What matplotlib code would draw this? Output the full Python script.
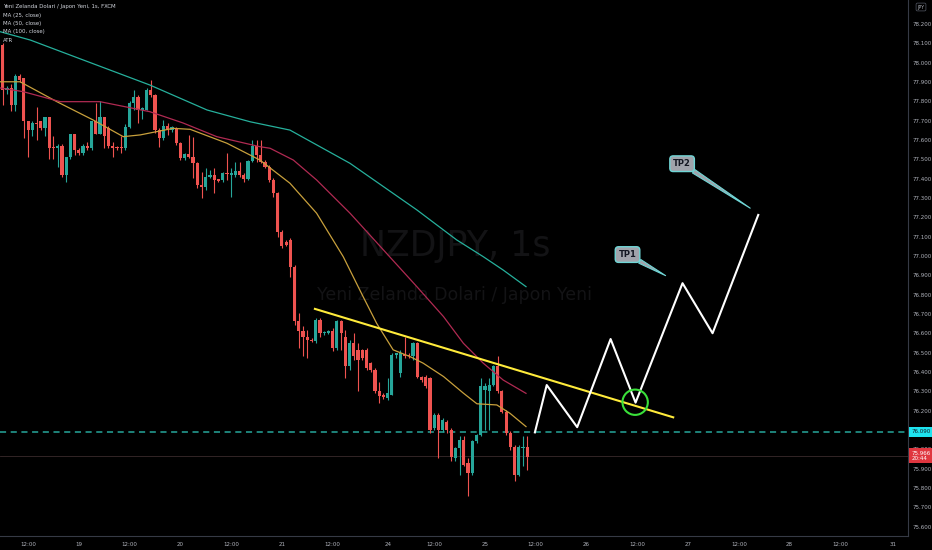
import numpy as np
import matplotlib.pyplot as plt
from matplotlib import transforms
from matplotlib.patches import Ellipse

# hourly candles (bar index 0..124)
opens = [78.09, 77.86, 77.87, 77.78, 77.93, 77.92, 77.70, 77.65, 77.69, 77.70,
         77.66, 77.72, 77.56, 77.56, 77.57, 77.42, 77.51, 77.63, 77.55, 77.53,
         77.57, 77.56, 77.70, 77.63, 77.72, 77.66, 77.57, 77.56, 77.565, 77.56,
         77.665, 77.79, 77.82, 77.755, 77.755, 77.858, 77.833, 77.652, 77.608, 77.672,
         77.652, 77.66, 77.583, 77.505, 77.527, 77.514, 77.479, 77.367, 77.358, 77.41,
         77.419, 77.40, 77.393, 77.431, 77.42, 77.42, 77.439, 77.419, 77.396, 77.493,
         77.569, 77.522, 77.488, 77.462, 77.393, 77.324, 77.126, 77.074, 77.083, 76.945,
         76.661, 76.609, 76.583, 76.566, 76.562, 76.669, 76.60, 76.60, 76.609, 76.523,
         76.661, 76.583, 76.428, 76.549, 76.514, 76.514, 76.514, 76.445, 76.411, 76.299,
         76.281, 76.264, 76.281, 76.488, 76.393, 76.49, 76.488, 76.48, 76.549, 76.376,
         76.376, 76.368, 76.109, 76.178, 76.10, 76.143, 76.10, 75.954, 76.006, 76.049,
         75.928, 75.876, 76.04, 76.075, 76.307, 76.299, 76.333, 76.428, 76.299, 76.195,
         76.083, 76.014, 75.868, 76.006, 76.014]
highs = [78.10, 77.88, 77.89, 77.94, 77.94, 77.92, 77.70, 77.70, 77.77, 77.70,
         77.72, 77.72, 77.62, 77.58, 77.58, 77.51, 77.63, 77.63, 77.56, 77.58,
         77.59, 77.70, 77.79, 77.80, 77.72, 77.67, 77.59, 77.57, 77.62, 77.68,
         77.80, 77.86, 77.83, 77.77, 77.87, 77.91, 77.84, 77.66, 77.703, 77.686,
         77.67, 77.665, 77.591, 77.53, 77.626, 77.617, 77.488, 77.436, 77.453, 77.445,
         77.453, 77.40, 77.436, 77.531, 77.453, 77.488, 77.488, 77.427, 77.496, 77.60,
         77.60, 77.60, 77.496, 77.47, 77.402, 77.333, 77.135, 77.083, 77.092, 76.954,
         76.707, 76.635, 76.617, 76.574, 76.678, 76.678, 76.609, 76.617, 76.626, 76.669,
         76.669, 76.617, 76.566, 76.60, 76.549, 76.52, 76.523, 76.45, 76.419, 76.35,
         76.29, 76.368, 76.497, 76.50, 76.514, 76.583, 76.50, 76.557, 76.557, 76.38,
         76.385, 76.376, 76.187, 76.187, 76.16, 76.152, 76.109, 76.01, 76.066, 76.066,
         75.954, 76.049, 76.08, 76.368, 76.342, 76.368, 76.437, 76.48, 76.307, 76.204,
         76.092, 76.023, 76.023, 76.066, 76.066]
lows = [77.78, 77.84, 77.75, 77.75, 77.90, 77.61, 77.51, 77.62, 77.60, 77.65,
        77.62, 77.50, 77.50, 77.46, 77.41, 77.38, 77.50, 77.52, 77.52, 77.52,
        77.55, 77.55, 77.63, 77.63, 77.56, 77.56, 77.51, 77.55, 77.53, 77.55,
        77.66, 77.755, 77.69, 77.71, 77.755, 77.824, 77.634, 77.565, 77.60, 77.626,
        77.64, 77.574, 77.496, 77.496, 77.505, 77.402, 77.35, 77.298, 77.341, 77.402,
        77.324, 77.38, 77.384, 77.393, 77.307, 77.41, 77.41, 77.384, 77.393, 77.488,
        77.488, 77.479, 77.453, 77.384, 77.307, 77.10, 77.04, 77.05, 76.893, 76.643,
        76.523, 76.48, 76.471, 76.557, 76.549, 76.583, 76.59, 76.595, 76.506, 76.514,
        76.514, 76.368, 76.411, 76.462, 76.299, 76.46, 76.411, 76.40, 76.29, 76.238,
        76.26, 76.256, 76.281, 76.47, 76.376, 76.47, 76.47, 76.462, 76.368, 76.35,
        76.316, 76.083, 76.10, 75.954, 76.09, 76.083, 75.937, 75.94, 75.868, 75.911,
        75.756, 75.868, 76.03, 76.066, 76.10, 76.10, 76.325, 76.29, 76.187, 76.075,
        75.997, 75.833, 75.859, 75.911, 75.894]
closes = [77.86, 77.87, 77.78, 77.93, 77.91, 77.70, 77.65, 77.69, 77.68, 77.66,
          77.72, 77.56, 77.557, 77.57, 77.42, 77.51, 77.63, 77.55, 77.53, 77.57,
          77.56, 77.70, 77.63, 77.72, 77.62, 77.57, 77.56, 77.557, 77.557, 77.665,
          77.79, 77.82, 77.755, 77.764, 77.858, 77.833, 77.652, 77.608, 77.672, 77.652,
          77.665, 77.583, 77.505, 77.527, 77.514, 77.479, 77.367, 77.358, 77.41, 77.419,
          77.393, 77.39, 77.431, 77.424, 77.431, 77.439, 77.419, 77.396, 77.493, 77.569,
          77.522, 77.488, 77.462, 77.393, 77.324, 77.126, 77.049, 77.057, 76.945, 76.661,
          76.609, 76.583, 76.566, 76.562, 76.669, 76.60, 76.605, 76.609, 76.523, 76.661,
          76.60, 76.428, 76.549, 76.48, 76.462, 76.471, 76.419, 76.411, 76.299, 76.273,
          76.268, 76.29, 76.488, 76.497, 76.497, 76.48, 76.48, 76.549, 76.376, 76.359,
          76.325, 76.10, 76.178, 76.10, 76.152, 76.10, 75.962, 76.006, 76.049, 75.919,
          75.876, 76.04, 76.075, 76.325, 76.325, 76.333, 76.428, 76.299, 76.195, 76.083,
          76.014, 75.868, 76.014, 76.014, 75.962]

# moving averages (bar index, price)
ma25_x = [-0.6, 4.1, 12.8, 21.4, 28.5, 32.5, 40.3, 44.3, 53.0, 60.8, 67.9, 74.2,
          80.5, 85.2, 88.4, 92.3, 96.3, 99.4, 104.2, 108.9, 112.1, 116.8, 119.9, 123.7]
ma25_y = [77.901, 77.901, 77.798, 77.703, 77.617, 77.626, 77.660, 77.655, 77.583, 77.496,
          77.376, 77.221, 76.996, 76.789, 76.651, 76.514, 76.479, 76.445, 76.376, 76.290,
          76.235, 76.229, 76.186, 76.117]
ma50_x = [-0.6, 4.8, 13.6, 23.0, 34.8, 42.6, 50.6, 60.8, 63.2, 68.7, 74.2, 82.1,
          90.0, 97.9, 104.2, 108.9, 113.6, 118.3, 123.7]
ma50_y = [77.869, 77.850, 77.798, 77.798, 77.746, 77.688, 77.617, 77.565, 77.557, 77.496,
          77.393, 77.221, 77.031, 76.841, 76.686, 76.548, 76.445, 76.358, 76.289]
ma100_x = [-0.6, 6.5, 19.0, 34.8, 48.3, 58.5, 67.9, 82.1, 97.9, 107.3, 113.6, 118.3, 123.7]
ma100_y = [78.160, 78.117, 78.014, 77.884, 77.755, 77.694, 77.651, 77.479, 77.238, 77.083,
           76.996, 76.927, 76.841]

# drawings
trend_x = [73.8, 158.5]
trend_y = [76.726, 76.165]
path_x = [125.8, 128.6, 135.8, 143.7, 149.6, 160.7, 167.8, 178.6]
path_y = [76.087, 76.332, 76.114, 76.570, 76.241, 76.859, 76.600, 77.212]

tick_pos = [6, 18, 30, 42, 54, 66, 78, 91, 102, 114, 126, 138, 150, 162, 174, 186, 198, 210.5]
tick_lab = ['12:00', '19', '12:00', '20', '12:00', '21', '12:00', '24', '12:00',
            '25', '12:00', '26', '12:00', '27', '12:00', '28', '12:00', '31']

GREEN = '#26a69a'
RED = '#ef5350'
TXT = '#b2b5be'
GRID = '#363a45'

fig = plt.figure(figsize=(9.32, 5.5), dpi=100, facecolor='black')
ax = fig.add_axes([0, 14 / 550, 908 / 932, 536 / 550])
ax.set_facecolor('black')

# watermark
ax.text(106.9, 77.049, 'NZDJPY, 1s', color='#131315', fontsize=25,
        ha='center', va='center', zorder=0)
ax.text(106.9, 76.80, 'Yeni Zelanda Dolari / Japon Yeni', color='#131315', fontsize=12.5,
        ha='center', va='center', zorder=0)

o = np.array(opens)
h = np.array(highs)
l = np.array(lows)
c = np.array(closes)
x = np.arange(len(c))
cols = np.where(c >= o, GREEN, RED)
ax.vlines(x, l, h, colors=cols, lw=0.8, zorder=2)
ax.bar(x, np.maximum(np.abs(c - o), 0.004), bottom=np.minimum(o, c), width=0.75,
       color=cols, zorder=3)

ax.plot(ma25_x, ma25_y, color='#c8a03c', lw=0.9, zorder=4)
ax.plot(ma50_x, ma50_y, color='#b02a52', lw=0.9, zorder=4)
ax.plot(ma100_x, ma100_y, color='#26b09c', lw=0.9, zorder=4)

ax.axhline(76.09, color='#26a69a', lw=1.1, ls=(0, (4, 3)), zorder=1)
ax.axhline(75.966, color='#3a2a2c', lw=0.6, zorder=1)

ax.plot(trend_x, trend_y, color='#ffeb3b', lw=1.5, zorder=5)
ax.plot(path_x, path_y, color='white', lw=1.5, zorder=5)
ax.add_patch(Ellipse((149.5, 76.243), 6.0, 0.131, fill=False, ec='#3ae03a', lw=1.5, zorder=6))

for lab, tip, box in [('TP1', (156.7, 76.898), (147.7, 77.007)),
                      ('TP2', (176.7, 77.247), (160.6, 77.477))]:
    ax.annotate(lab, xy=tip, xytext=box, ha='center', va='center', fontsize=6,
                fontweight='bold', color='#131722', zorder=7,
                bbox=dict(boxstyle='round,pad=0.4', fc='#a0a3ab', ec='#6fd6d6', lw=1),
                arrowprops=dict(arrowstyle='wedge,tail_width=0.5', fc='#a0a3ab',
                                ec='#6fd6d6', lw=0.8, shrinkA=0, shrinkB=0))

ax.set_xlim(-0.64, 214.0)
ax.set_ylim(75.551, 78.324)
ax.set_xticks(tick_pos)
ax.set_xticklabels(tick_lab)
ax.set_yticks(np.arange(75.6, 78.25, 0.1))
ax.yaxis.set_major_formatter(plt.FormatStrFormatter('%.3f'))
ax.yaxis.tick_right()
ax.tick_params(axis='both', length=0, colors=TXT, labelsize=4.0)
ax.tick_params(axis='x', pad=4)
ax.tick_params(axis='y', pad=3)
for s in ['top', 'left']:
    ax.spines[s].set_visible(False)
for s in ['right', 'bottom']:
    ax.spines[s].set_color(GRID)
    ax.spines[s].set_linewidth(0.8)

# price labels on the axis
tr = transforms.blended_transform_factory(ax.transAxes, ax.transData)
ax.text(1.004, 76.09, '76.090', transform=tr, fontsize=4.0, color='#131722',
        ha='left', va='center', clip_on=False, zorder=8,
        bbox=dict(boxstyle='square,pad=0.45', fc='#1ee3ef', ec='none'))
ax.text(1.004, 75.966, '75.966\n20:44', transform=tr, fontsize=4.0, color='white',
        ha='left', va='center', clip_on=False, zorder=8, linespacing=1.1,
        bbox=dict(boxstyle='square,pad=0.45', fc='#e0363f', ec='none'))

fig.text(921 / 932, 1 - 7 / 550, 'JPY', fontsize=3.4, color=TXT, ha='center', va='center',
         bbox=dict(boxstyle='round,pad=0.3', fc='black', ec='#555a66', lw=0.5))

legend = ['Yeni Zelanda Dolari / Japon Yeni, 1s, FXCM', 'MA (25, close)', 'MA (50, close)',
          'MA (100, close)', 'ATR']
for i, t in enumerate(legend):
    fig.text(3 / 932, 1 - (6.7 + 8.35 * i) / 550, t, fontsize=3.9, color='#d1d4dc',
             ha='left', va='center')

fig.savefig('out.png', dpi=100, facecolor='black')
